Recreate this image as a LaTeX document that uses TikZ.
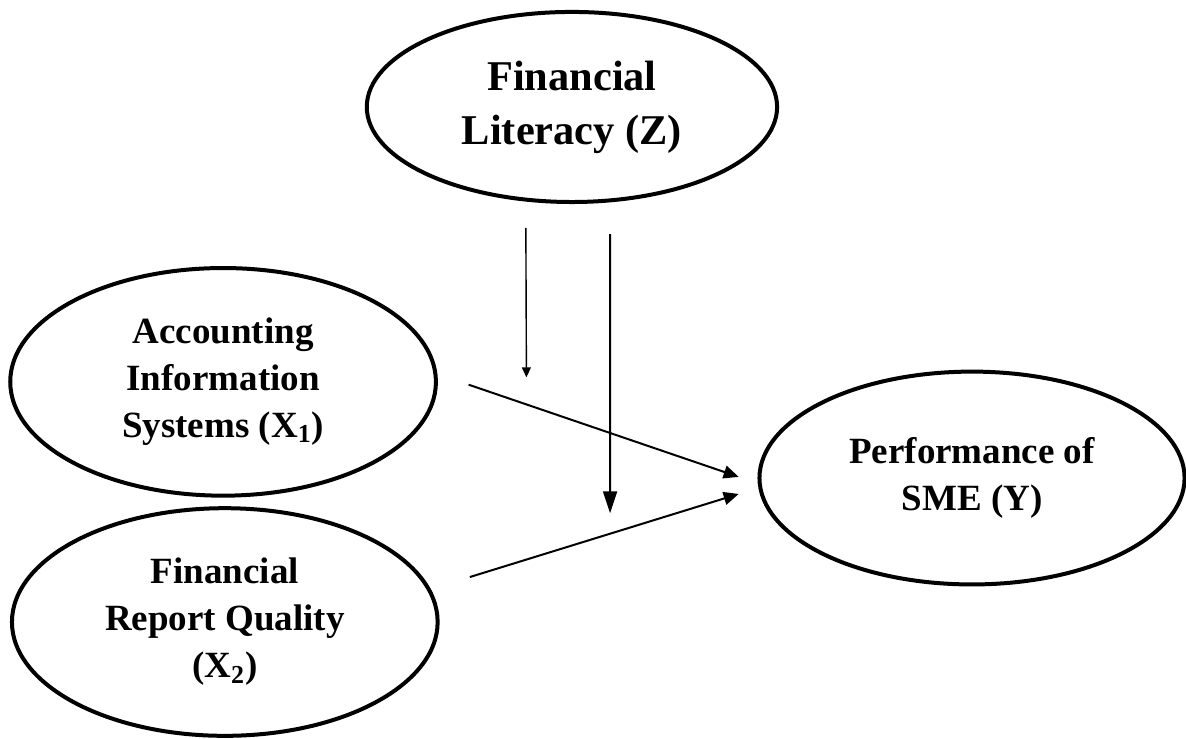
\documentclass[tikz,border=0pt]{standalone}
\usepackage{fontspec}
\setmainfont{Liberation Serif}
\usetikzlibrary{shapes.geometric,arrows.meta,positioning}

\begin{document}
\begin{tikzpicture}[
    font=\bfseries\fontsize{18.5}{23.5}\selectfont,
    construct/.style={draw, ellipse, inner sep=0pt, align=center, minimum width=7.48cm, minimum height=4.0cm, line width=2pt},
    moderator/.style={draw, ellipse, inner sep=0pt, align=center, minimum width=7.21cm, minimum height=3.34cm, line width=2pt, font=\bfseries\fontsize{21.2}{27}\selectfont},
    outcome/.style={draw, ellipse, inner sep=0pt, align=center, minimum width=7.47cm, minimum height=3.74cm, line width=2pt},
    arrow/.style={-{Triangle[length=7.5pt, width=6.5pt]}, line width=1pt},
    thinarrow/.style={-{Triangle[length=5pt, width=4.5pt]}, line width=0.7pt},
    bigarrow/.style={-{Triangle[length=11pt, width=7pt]}, line width=1pt}
]
\useasboundingbox (0,0) rectangle (20.84,12.97);

% ---- Constructs ----
\node[moderator] (lit) at (10.05,11.09) {Financial\\Literacy (Z)};
\node[construct] (ais) at (3.92,6.26) {Accounting\\Information\\Systems (X\textsubscript{1})};
\node[construct] (frq) at (3.95,2.04) {Financial\\Report Quality\\(X\textsubscript{2})};
\node[outcome] (sme) at (17.08,4.57) {Performance of\\SME (Y)};

% ---- Free ends of the moderating arrows ----
\coordinate (tipA) at (9.25,6.34);
\coordinate (tipB) at (10.72,3.95);

% ---- Direct effects ----
\draw[arrow] ([shift={(0.54,-0.05)}]ais.east) -- ([shift={(-0.33,0.02)}]sme.west);
\draw[arrow] ([shift={(0.53,0.79)}]frq.east) -- ([shift={(-0.33,-0.28)}]sme.west);

% ---- Moderating effects ----
\draw[thinarrow] ([shift={(-0.81,-0.42)}]lit.south) -- (tipA);
\draw[bigarrow] ([shift={(0.67,-0.53)}]lit.south) -- (tipB);

\end{tikzpicture}
\end{document}
